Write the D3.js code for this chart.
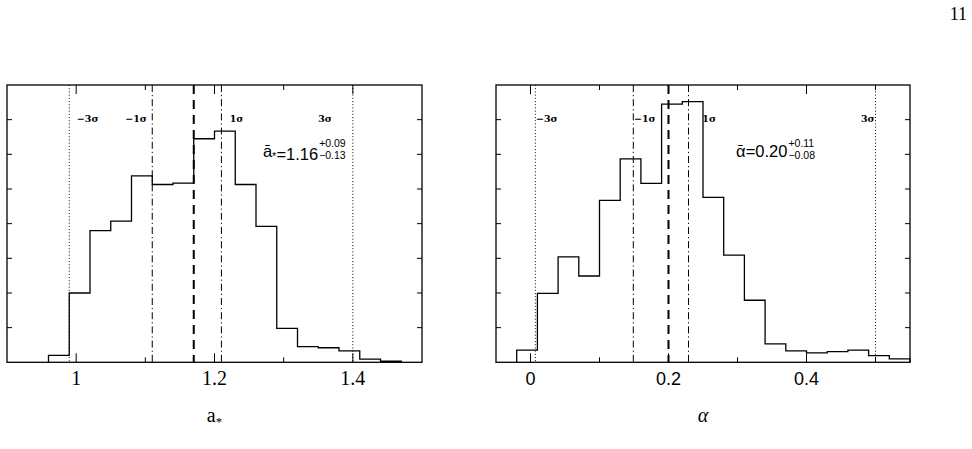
<!DOCTYPE html>
<html><head><meta charset="utf-8">
<script src="https://cdn.jsdelivr.net/npm/d3@7"></script>
<style>body{margin:0;background:#fff}svg{display:block}</style>
</head><body>
<svg id="c" width="972" height="449"></svg>
<script>
// ---- data ----
const binWidth = 0.03;
const aBinStarts = [0.96,0.99,1.02,1.05,1.08,1.11,1.14,1.17,1.20,1.23,1.26,1.29,1.32,1.35,1.38,1.41,1.44];
const aCounts    = [0.2,2.0,3.8,4.07,5.38,5.13,5.17,6.45,6.67,5.13,3.92,0.98,0.45,0.42,0.33,0.09,0.03];
const alphaBinStarts = [-0.02,0.01,0.04,0.07,0.10,0.13,0.16,0.19,0.22,0.25,0.28,0.31,0.34,0.37,0.40,0.43,0.46,0.49,0.52];
const alphaCounts    = [0.35,1.99,3.04,2.49,4.67,5.87,5.16,7.45,7.52,4.76,3.09,1.79,0.53,0.33,0.27,0.31,0.35,0.19,0.1];

const aDomain = [0.9, 1.5];
const alphaDomain = [-0.05, 0.55];
const aTickLabels = [1, 1.2, 1.4];
const alphaTickLabels = [0, 0.2, 0.4];

// reference lines: -3σ, -1σ, mean, +1σ, +3σ
const aLines     = [0.99, 1.11, 1.17, 1.21, 1.40];
const alphaLines = [0.007, 0.149, 0.20, 0.229, 0.50];
const lineKinds  = ["dot","dashdot","dash","dashdot","dot"];
const sigmaLabels = ["\u22123\u03C3","\u22121\u03C3","1\u03C3","3\u03C3"];
const aSigmaLabelX     = [1.001, 1.071, 1.222, 1.350];
const alphaSigmaLabelX = [0.008, 0.150, 0.249, 0.479];

const aStat = {value:"1.16", plus:"+0.09", minus:"\u22120.13"};
const alphaStat = {value:"0.20", plus:"+0.11", minus:"\u22120.08"};

const svg = d3.select("#c");

// page number
svg.append("text").attr("x",967).attr("y",20).attr("text-anchor","end")
  .attr("font-family","'Liberation Serif',serif").attr("font-size",18).text("11");

const H = {top:85, bottom:362.3};
const y = d3.scaleLinear().domain([0,8]).range([H.bottom, H.top]);

function panel(opt){
  const x = d3.scaleLinear().domain(opt.domain).range([opt.x0, opt.x1]);
  const g = svg.append("g");
  const black = "#000";

  // histogram step path
  const pts = [];
  opt.starts.forEach((s,i)=>{
    pts.push([s, opt.counts[i]]);
    pts.push([s+binWidth, opt.counts[i]]);
  });
  const first = opt.starts[0], last = opt.starts[opt.starts.length-1]+binWidth;
  const path = [[first,0], ...pts, [last,0]];
  g.append("path")
    .attr("d", d3.line().x(d=>x(d[0])).y(d=>y(d[1]))(path))
    .attr("fill","none").attr("stroke",black).attr("stroke-width",1.3);

  // reference lines
  const dashes = {dot:"1,2.2", dashdot:"7,3,1.2,3", dash:"9,6"};
  const widths = {dot:1, dashdot:1, dash:2};
  opt.lines.forEach((v,i)=>{
    g.append("line").attr("x1",x(v)).attr("x2",x(v)).attr("y1",H.top).attr("y2",H.bottom)
      .attr("stroke",black).attr("stroke-width",widths[opt.kinds[i]])
      .attr("stroke-dasharray",dashes[opt.kinds[i]]);
  });

  // sigma labels
  opt.sigmaX.forEach((v,i)=>{
    g.append("text").attr("x",x(v)).attr("y",y(6.92))
      .attr("font-family","'DejaVu Serif',serif").attr("font-weight","bold")
      .attr("font-size",9.5).text(sigmaLabels[i]);
  });

  // frame
  g.append("rect").attr("x",opt.x0).attr("y",H.top).attr("width",opt.x1-opt.x0)
    .attr("height",H.bottom-H.top).attr("fill","none").attr("stroke",black).attr("stroke-width",1.3);

  // x ticks (inward, bottom and top)
  const ticks = d3.range(Math.ceil(opt.domain[0]*10), Math.floor(opt.domain[1]*10)+1)
    .map(k=>k/10).filter(t=>t>opt.domain[0]+1e-9 && t<opt.domain[1]-1e-9);
  ticks.forEach(t=>{
    const major = opt.labels.some(l=>Math.abs(l-t)<1e-9);
    const len = major?9:5;
    g.append("line").attr("x1",x(t)).attr("x2",x(t)).attr("y1",H.bottom).attr("y2",H.bottom-len)
      .attr("stroke",black).attr("stroke-width",1);
    g.append("line").attr("x1",x(t)).attr("x2",x(t)).attr("y1",H.top).attr("y2",H.top+len)
      .attr("stroke",black).attr("stroke-width",1);
  });
  // y ticks
  d3.range(1,8).forEach(v=>{
    g.append("line").attr("x1",opt.x0).attr("x2",opt.x0+5).attr("y1",y(v)).attr("y2",y(v))
      .attr("stroke",black).attr("stroke-width",1);
    g.append("line").attr("x1",opt.x1).attr("x2",opt.x1-5).attr("y1",y(v)).attr("y2",y(v))
      .attr("stroke",black).attr("stroke-width",1);
  });
  // tick labels
  opt.labels.forEach(l=>{
    g.append("text").attr("x",x(l)).attr("y",385).attr("text-anchor","middle")
      .attr("font-family",opt.tickFont).attr("font-size",opt.tickSize).text(d3.format("")(l));
  });

  // axis title
  const t = g.append("text").attr("x",(opt.x0+opt.x1)/2).attr("y",422).attr("text-anchor","middle")
    .attr("font-family","'Liberation Serif',serif").attr("font-size",20);
  opt.title(t);

  // statistic annotation
  const sx = x(opt.statX), sy = 157;
  const main = g.append("text").attr("x",sx).attr("y",sy)
    .attr("font-family","'Liberation Sans',sans-serif").attr("font-size",16.5);
  opt.statSymbol(main);
  main.append("tspan").text("=" + opt.stat.value);
  const w = main.node().getBBox().width;
  g.append("text").attr("x",sx+w+1).attr("y",sy-10)
    .attr("font-family","'Liberation Sans',sans-serif").attr("font-size",10.5).text(opt.stat.plus);
  g.append("text").attr("x",sx+w+1).attr("y",sy+2)
    .attr("font-family","'Liberation Sans',sans-serif").attr("font-size",10.5).text(opt.stat.minus);
}

panel({
  x0:7, x1:422, domain:aDomain, starts:aBinStarts, counts:aCounts,
  lines:aLines, kinds:lineKinds, sigmaX:aSigmaLabelX, labels:aTickLabels,
  tickFont:"'Liberation Serif',serif", tickSize:20,
  title: t => { t.append("tspan").text("a"); t.append("tspan").attr("font-size",13).attr("dy",4).text("*"); },
  statX:1.270, stat:aStat,
  statSymbol: m => { m.append("tspan").text("\u0101"); m.append("tspan").attr("font-size",11).attr("dy",3).text("*"); m.append("tspan").attr("dy",-3).text(""); }
});

panel({
  x0:496, x1:910, domain:alphaDomain, starts:alphaBinStarts, counts:alphaCounts,
  lines:alphaLines, kinds:lineKinds, sigmaX:alphaSigmaLabelX, labels:alphaTickLabels,
  tickFont:"'Liberation Sans',sans-serif", tickSize:18,
  title: t => { t.append("tspan").attr("font-style","italic").text("\u03B1"); },
  statX:0.298, stat:alphaStat,
  statSymbol: m => { m.append("tspan").text("\u1FB1"); }
});
</script>
</body></html>
